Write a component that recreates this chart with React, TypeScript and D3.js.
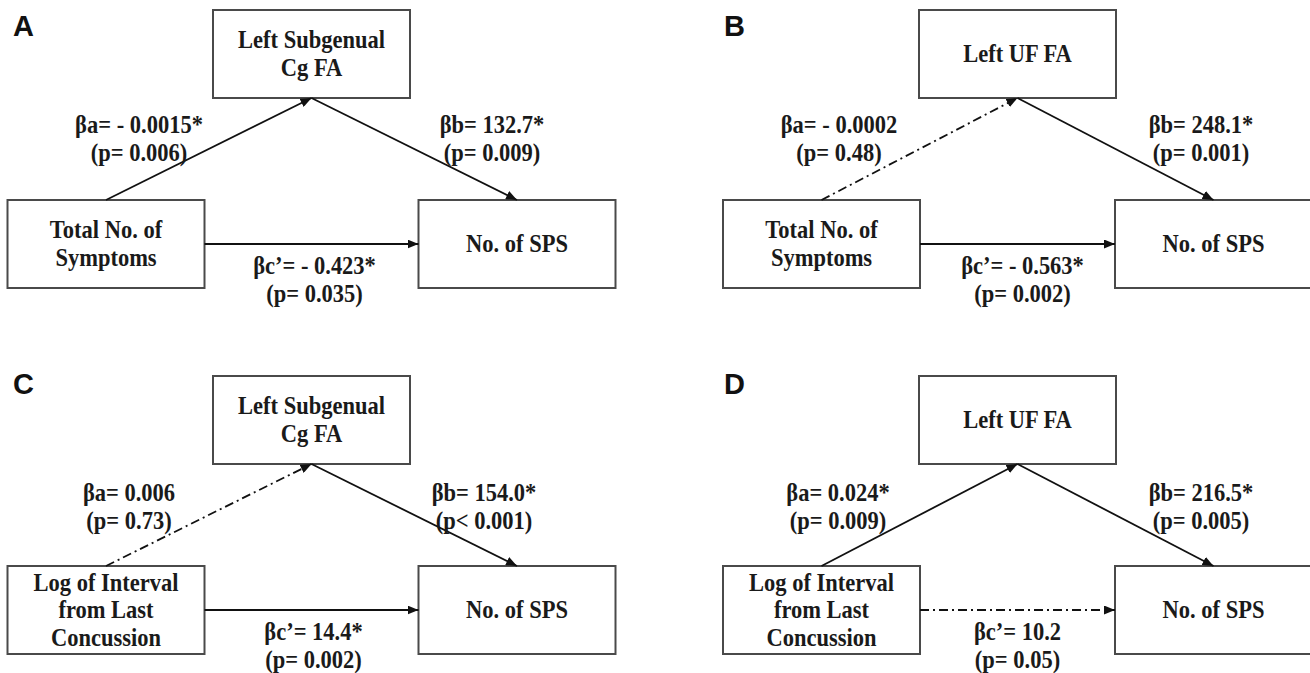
import React from "react";
import * as d3 from "d3";

// panel letters and the three nodes of each mediation model
const panels = ["A", "B", "C", "D"];
const predictors = [
  ["Total No. of", "Symptoms"],
  ["Total No. of", "Symptoms"],
  ["Log of Interval", "from Last", "Concussion"],
  ["Log of Interval", "from Last", "Concussion"],
];
const mediators = [
  ["Left Subgenual", "Cg FA"],
  ["Left UF FA"],
  ["Left Subgenual", "Cg FA"],
  ["Left UF FA"],
];
const outcomes = [["No. of SPS"], ["No. of SPS"], ["No. of SPS"], ["No. of SPS"]];

// path coefficients and p values
const betaA = ["- 0.0015*", "- 0.0002", "0.006", "0.024*"];
const pA = ["= 0.006", "= 0.48", "= 0.73", "= 0.009"];
const betaB = ["132.7*", "248.1*", "154.0*", "216.5*"];
const pB = ["= 0.009", "= 0.001", "< 0.001", "= 0.005"];
const betaC = ["- 0.423*", "- 0.563*", "14.4*", "10.2"];
const pC = ["= 0.035", "= 0.002", "= 0.002", "= 0.05"];

// layout
const W = 1310;
const H = 673;
const BOX_W = 197;
const BOX_H = 88;
const LINE_H = 27.5;
const SERIF = "'Liberation Serif', 'Times New Roman', serif";
const SANS = "'Liberation Sans', Arial, sans-serif";
const DASH = "9,4,2,4";
const STRETCH = 1.13;

const panelCol = [0, 1, 0, 1];
const panelRow = [0, 0, 1, 1];
const colRanges: [number, number][] = [
  [106, 517],
  [821.5, 1213.5],
];
const rowOffset = d3.scaleLinear().domain([0, 1]).range([0, 366]);
const nodeY = d3.scalePoint<string>().domain(["top", "bottom"]).range([54, 244]);
const labelX = [13, 724];
const labelShift = [
  { a: 33, b: -25, c: 3 },
  { a: 17.5, b: -12.5, c: 5 },
  { a: 23, b: -33, c: 2 },
  { a: 16.5, b: -12.5, c: 0 },
];

const sig = (s: string) => s.includes("*");

// serif text, slightly stretched vertically like the reference
const T = ({ x, y, children }: { x: number; y: number; children: React.ReactNode }) => (
  <text
    transform={`translate(${x},${y}) scale(1,${STRETCH})`}
    textAnchor="middle"
    fontFamily={SERIF}
    fontWeight="bold"
    fontSize={22.5}
    fill="#1a1a1a"
  >
    {children}
  </text>
);

const Box = ({ cx, cy, lines }: { cx: number; cy: number; lines: string[] }) => (
  <g>
    <rect
      x={cx - BOX_W / 2}
      y={cy - BOX_H / 2}
      width={BOX_W}
      height={BOX_H}
      fill="#fff"
      stroke="#4a4a4a"
      strokeWidth={2}
    />
    {lines.map((t, i) => (
      <T key={i} x={cx} y={cy + (i - (lines.length - 1) / 2) * LINE_H + 8}>
        {t}
      </T>
    ))}
  </g>
);

const EdgeLabel = ({ x, y, l1, l2 }: { x: number; y: number; l1: string; l2: string }) => (
  <g>
    <T x={x} y={y + 8}>{l1}</T>
    <T x={x} y={y + 28 + 8}>{l2}</T>
  </g>
);

const Panel = ({ i }: { i: number }) => {
  const x = d3
    .scalePoint<string>()
    .domain(["X", "M", "Y"])
    .range(colRanges[panelCol[i]]);
  const dy = rowOffset(panelRow[i]);
  const topY = (nodeY("top") as number) + dy;
  const botY = (nodeY("bottom") as number) + dy;
  const xX = x("X") as number;
  const xM = x("M") as number;
  const xY = x("Y") as number;
  const sh = labelShift[i];
  const line = d3.line();

  const paths = [
    { d: line([[xX, botY - BOX_H / 2], [xM, topY + BOX_H / 2]]), dashed: !sig(betaA[i]) },
    { d: line([[xM, topY + BOX_H / 2], [xY, botY - BOX_H / 2]]), dashed: !sig(betaB[i]) },
    { d: line([[xX + BOX_W / 2, botY], [xY - BOX_W / 2, botY]]), dashed: !sig(betaC[i]) },
  ];
  const aY = topY + 71 + (panelRow[i] ? 1.5 : 0);

  return (
    <g>
      <text
        x={labelX[panelCol[i]]}
        y={panelRow[i] === 0 ? 36 : 394}
        fontFamily={SANS}
        fontWeight="bold"
        fontSize={29}
        fill="#111"
      >
        {panels[i]}
      </text>
      <Box cx={xM} cy={topY} lines={mediators[i]} />
      <Box cx={xX} cy={botY} lines={predictors[i]} />
      <Box cx={xY} cy={botY} lines={outcomes[i]} />
      {paths.map((p, k) => (
        <path
          key={k}
          d={p.d || ""}
          fill="none"
          stroke="#111"
          strokeWidth={1.8}
          strokeDasharray={p.dashed ? DASH : undefined}
          markerEnd="url(#arrow)"
        />
      ))}
      <EdgeLabel x={xX + sh.a} y={aY} l1={`βa= ${betaA[i]}`} l2={`(p${pA[i]})`} />
      <EdgeLabel x={xY + sh.b} y={aY} l1={`βb= ${betaB[i]}`} l2={`(p${pB[i]})`} />
      <EdgeLabel x={xM + sh.c} y={botY + 21.5} l1={`βc’= ${betaC[i]}`} l2={`(p${pC[i]})`} />
    </g>
  );
};

export default function App() {
  return (
    <svg
      width={W}
      height={H}
      viewBox={`0 0 ${W} ${H}`}
      style={{ position: "absolute", left: 0, top: 0, background: "#fff" }}
    >
      <defs>
        <marker
          id="arrow"
          viewBox="0 0 11 9"
          refX={11}
          refY={4.5}
          markerWidth={11}
          markerHeight={9}
          markerUnits="userSpaceOnUse"
          orient="auto"
        >
          <path d="M0,0 L11,4.5 L0,9 Z" fill="#111" />
        </marker>
      </defs>
      {panels.map((_, i) => (
        <Panel key={i} i={i} />
      ))}
    </svg>
  );
}
